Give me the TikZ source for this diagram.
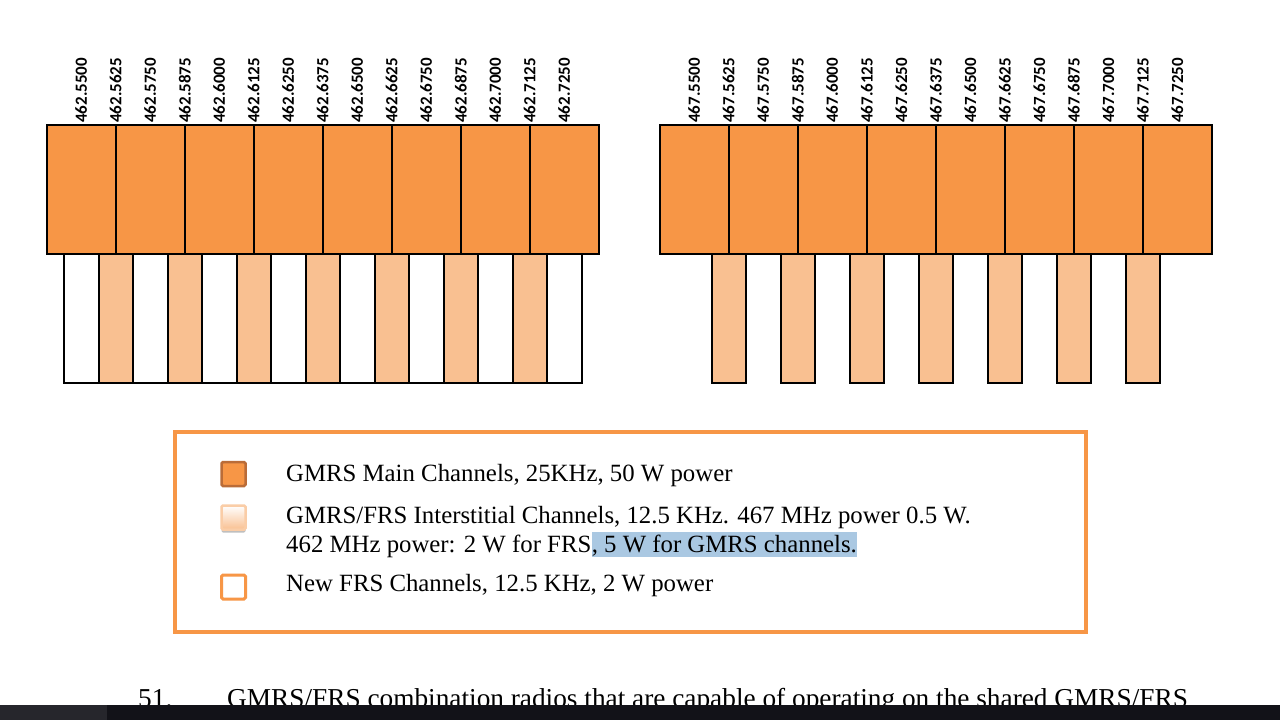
\documentclass[tikz,border=0pt]{standalone}
\usepackage{fontspec}
\setmainfont{Liberation Serif}
\newfontfamily\freqfont{Carlito}
\usepackage{tikz}
\usetikzlibrary{positioning}
\usetikzlibrary{shadows}

\definecolor{chorange}{RGB}{247,150,70}
\definecolor{chlight}{RGB}{249,192,145}
\definecolor{keyedge}{RGB}{186,108,56}
\definecolor{hilite}{RGB}{170,200,226}
\definecolor{taskbar}{RGB}{18,18,24}
\definecolor{taskleft}{RGB}{38,38,44}

\begin{document}
\begin{tikzpicture}
[
	x = 1pt, y = -1pt,
	mainch/.style = {rectangle, draw = black, fill = chorange, line width = 2pt, minimum width = 69pt, minimum height = 129pt, inner sep = 0pt, outer sep = 0pt},
	newfrs/.style = {rectangle, draw = black, fill = white, line width = 2pt, minimum width = 34.5pt, minimum height = 129pt, inner sep = 0pt, outer sep = 0pt},
	inter/.style = {newfrs, fill = chlight},
	freq/.style = {rotate = 90, anchor = west, inner sep = 0pt, font = \freqfont\bfseries\fontsize{17}{17}\selectfont},
	key/.style = {rectangle, minimum size = 24pt, inner sep = 0pt, rounded corners = 1.5pt, line width = 2.5pt},
	legtext/.style = {anchor = base west, inner sep = 0pt, font = \fontsize{24.8}{29}\selectfont},
	bodytext/.style = {anchor = base west, inner sep = 0pt, font = \fontsize{27.3}{31}\selectfont},
]

	\useasboundingbox (0,0) rectangle (1280,720);
	\fill [white] (0,0) rectangle (1280,720);

	% 462 MHz band
	\foreach \i in {0,2,...,14}
		\node (ls\i) [newfrs] at (81.25+34.5*\i, 318.5) {};
	\foreach \i in {1,3,...,13}
		\node (ls\i) [inter] at (81.25+34.5*\i, 318.5) {};
	\foreach \i in {0,...,7}
		\node (lm\i) [mainch] at (81.25+69*\i, 189.5) {};
	\foreach \f [count = \i from 0] in {5500,5625,5750,5875,6000,6125,6250,6375,6500,6625,6750,6875,7000,7125,7250}
		\node (lf\i) [freq] at (81.25+34.5*\i, 123) {462.\f};

	% 467 MHz band
	\foreach \i in {1,3,...,13}
		\node (rs\i) [inter] at (694.25+34.5*\i, 318.5) {};
	\foreach \i in {0,...,7}
		\node (rm\i) [mainch] at (694.25+69*\i, 189.5) {};
	\foreach \f [count = \i from 0] in {5500,5625,5750,5875,6000,6125,6250,6375,6500,6625,6750,6875,7000,7125,7250}
		\node (rf\i) [freq] at (694.25+34.5*\i, 123) {467.\f};

	% legend
	\node (legend) [rectangle, draw = chorange, line width = 3.5pt, minimum width = 911pt, minimum height = 200pt] at (630.5, 532) {};
	%
	\node (k1) [key, draw = keyedge, fill = chorange] at (233.5, 474) {};
	\node (k2) [key, draw = chlight!80!white, top color = white, bottom color = chlight, drop shadow = {shadow xshift = 0pt, shadow yshift = -3pt, opacity = 0.5}] at (233.5, 517.5) {};
	\node (k3) [key, draw = chorange, fill = white, line width = 3pt] at (233.5, 587) {};
	%
	\node (t1) [legtext] at (286, 481) {GMRS Main Channels, 25KHz, 50 W power};
	\node (t2) [legtext] at (286, 523) {GMRS/FRS Interstitial Channels, 12.5 KHz. 467 MHz power 0.5 W.};
	\node (t3) [legtext] at (286, 552) {462 MHz power: 2 W for FRS};
	\node (t3h) [legtext, fill = hilite, text height = 20pt, text depth = 5pt] at (t3.base east) {, 5 W for GMRS channels.};
	\node (t4) [legtext] at (286, 591) {New FRS Channels, 12.5 KHz, 2 W power};

	% page text under the figure
	\node (p51) [bodytext] at (138, 707) {51.};
	\node (p51t) [bodytext] at (227, 707) {GMRS/FRS combination radios that are capable of operating on the shared GMRS/FRS};

	% taskbar
	\fill [taskbar] (0,705) rectangle (1280,720);
	\fill [taskleft] (0,705) rectangle (107,720);

\end{tikzpicture}
\end{document}
